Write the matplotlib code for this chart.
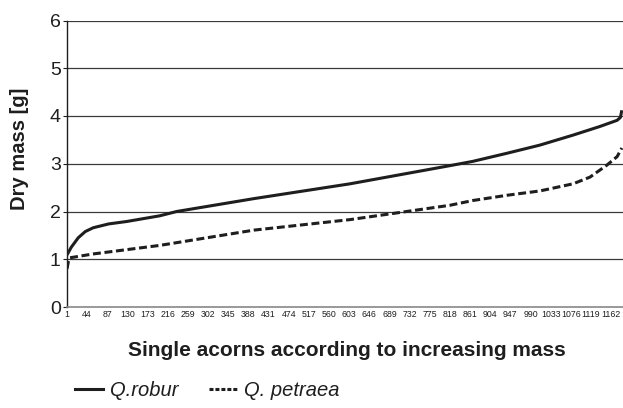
import matplotlib
matplotlib.use("Agg")
import matplotlib.pyplot as plt
from matplotlib.lines import Line2D

plt.rcParams["font.family"] = ["Liberation Sans", "DejaVu Sans"]

# acorn rank (sorted by mass) and dry mass in g
robur_rank = [1, 10, 25, 40, 57, 90, 128, 199, 235, 400, 605, 818, 867, 940, 1010, 1081, 1138, 1175, 1182, 1185]
robur_mass = [1.09, 1.25, 1.45, 1.58, 1.66, 1.74, 1.79, 1.91, 2.0, 2.27, 2.58, 2.96, 3.05, 3.22, 3.39, 3.6, 3.78, 3.91, 3.97, 4.12]

petraea_rank = [1, 4, 7, 56, 199, 400, 605, 818, 867, 940, 1010, 1081, 1117, 1153, 1175, 1185]
petraea_mass = [0.8, 0.95, 1.03, 1.11, 1.29, 1.61, 1.83, 2.13, 2.23, 2.34, 2.43, 2.58, 2.72, 2.97, 3.15, 3.33]

x_ticks = list(range(1, 1163, 43))
y_ticks = [0, 1, 2, 3, 4, 5, 6]

INK = "#1e1e1e"
W, H = 623, 408
fig = plt.figure(figsize=(W / 100, H / 100), dpi=100)
# axes runs past the right edge of the figure
left, right, top, bottom = 67, 640, 20.5, 307
ax = fig.add_axes([left / W, 1 - bottom / H, (right - left) / W, (bottom - top) / H])

px_per_rank = 0.4686
ax.set_xlim(1, 1 + (right - left) / px_per_rank)
ax.set_ylim(0, 6)

for y in y_ticks[1:]:
    ax.axhline(y, color="#3a3a3a", lw=0.9, zorder=1)

ax.plot(robur_rank, robur_mass, color=INK, lw=2.2, solid_capstyle="butt", zorder=3)
ax.plot(petraea_rank, petraea_mass, color=INK, lw=2.2, dashes=(2.6, 1.2), zorder=3)

for s in ("top", "right"):
    ax.spines[s].set_visible(False)
ax.spines["left"].set_color(INK)
ax.spines["left"].set_linewidth(1.0)
ax.spines["bottom"].set_color("#888888")
ax.spines["bottom"].set_linewidth(1.2)

ax.set_yticks(y_ticks)
ax.set_yticklabels([str(v) for v in y_ticks], fontsize=14, color=INK)
ax.tick_params(axis="y", length=3, width=0.8, pad=1.5, color=INK)

ax.set_xticks(x_ticks)
ax.set_xticklabels([str(v) for v in x_ticks], fontsize=6.3, color=INK)
ax.tick_params(axis="x", length=0, pad=2)

fig.text(20 / W, 1 - 149 / H, "Dry mass [g]", rotation=90, fontsize=14.5,
         fontweight="bold", color=INK, ha="center", va="center")
fig.text(347 / W, 1 - 350 / H, "Single acorns according to increasing mass",
         fontsize=15, fontweight="bold", color=INK, ha="center", va="center")

handles = [Line2D([], [], color=INK, lw=2.2),
           Line2D([], [], color=INK, lw=2.2, dashes=(1.3, 0.65))]
fig.legend(handles, ["Q.robur", "Q. petraea"], loc="center left",
           bbox_to_anchor=(57 / W, 1 - 391 / H), ncol=2, frameon=False,
           prop={"style": "italic", "size": 14.5}, handlelength=1.4, handletextpad=0.35,
           columnspacing=1.5, labelcolor=INK)

fig.savefig("out.png", dpi=100)
